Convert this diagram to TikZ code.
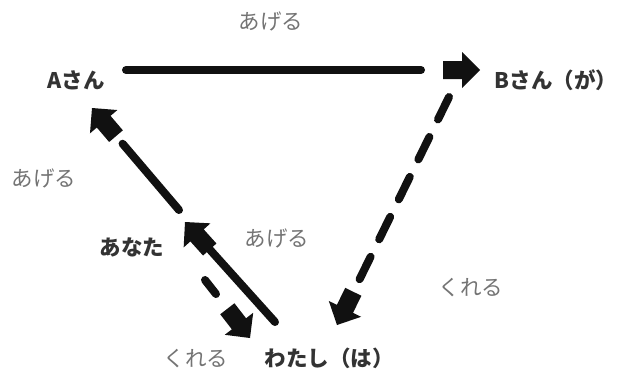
\documentclass[tikz,border=0pt]{standalone}
\usepackage{fontspec}
\newfontfamily\jp{Noto Sans CJK JP}
\usetikzlibrary{calc}
\definecolor{ink}{HTML}{111111}
\definecolor{nm}{HTML}{333333}
\definecolor{lb}{HTML}{747474}
\newcommand{\blkarrow}[2]{%
  \fill[ink] (#2)
    -- ($(#2)!18pt!(#1)!18pt!90:(#2)$)
    -- ($(#2)!18pt!(#1)!9pt!90:(#2)$)
    -- ($(#2)!37pt!(#1)!9pt!90:(#2)$)
    -- ($(#2)!37pt!(#1)!9pt!-90:(#2)$)
    -- ($(#2)!18pt!(#1)!9pt!-90:(#2)$)
    -- ($(#2)!18pt!(#1)!18pt!-90:(#2)$)
    -- cycle;}
\begin{document}
\begin{tikzpicture}[x=1pt,y=-1pt,
  conn/.style={draw=ink, line width=8pt, line cap=round},
  dconn/.style={conn, dash pattern=on 25pt off 19.5pt},
  nmtxt/.style={font=\jp\bfseries\fontsize{21.5}{21.5}\selectfont, text=nm, inner sep=0pt},
  lbtxt/.style={font=\jp\fontsize{21.5}{21.5}\selectfont, text=lb, inner sep=0pt}]
\useasboundingbox (0,0) rectangle (617,376);
\fill[white] (0,0) rectangle (617,376);
% nodes
\node[nmtxt] (A) at (76,80) {Aさん};
\node[nmtxt] (B) at (556,80) {Bさん（が）};
\node[nmtxt] (W) at (329,358) {わたし（は）};
\node[nmtxt] (Y) at (132,247) {あなた};
\node[lbtxt] (l1) at (271,21) {あげる};
\node[lbtxt] (l2) at (44,178) {あげる};
\node[lbtxt] (l3) at (277,238) {あげる};
\node[lbtxt] (l4) at (471,288) {くれる};
\node[lbtxt] (l5) at (196,359) {くれる};
% endpoints
\coordinate (ab0) at (126,70);
\coordinate (ab1) at (421,70);
\coordinate (abt) at (480,70);
\coordinate (bw0) at (449,97);
\coordinate (bw1) at (359.6,279.2);
\coordinate (bwt) at (337,325);
\coordinate (wy0) at (275,322);
\coordinate (wy1) at (209.8,249.5);
\coordinate (wyt) at (185,222);
\coordinate (ya0) at (179,210);
\coordinate (ya1) at (122.6,143.7);
\coordinate (yat) at (92,108);
\coordinate (yw0) at (205,280);
\coordinate (yw1) at (216,294);
\coordinate (ywt) at (250,338);
% connectors
\draw[conn] (ab0) -- (ab1);
\blkarrow{ab1}{abt}
\draw[dconn] (bw0) -- (bw1);
\blkarrow{bw0}{bwt}
\draw[conn] (wy0) -- (wy1);
\blkarrow{wy0}{wyt}
\draw[conn] (ya0) -- (ya1);
\blkarrow{ya0}{yat}
\draw[conn] (yw0) -- (yw1);
\blkarrow{yw0}{ywt}
\end{tikzpicture}
\end{document}
